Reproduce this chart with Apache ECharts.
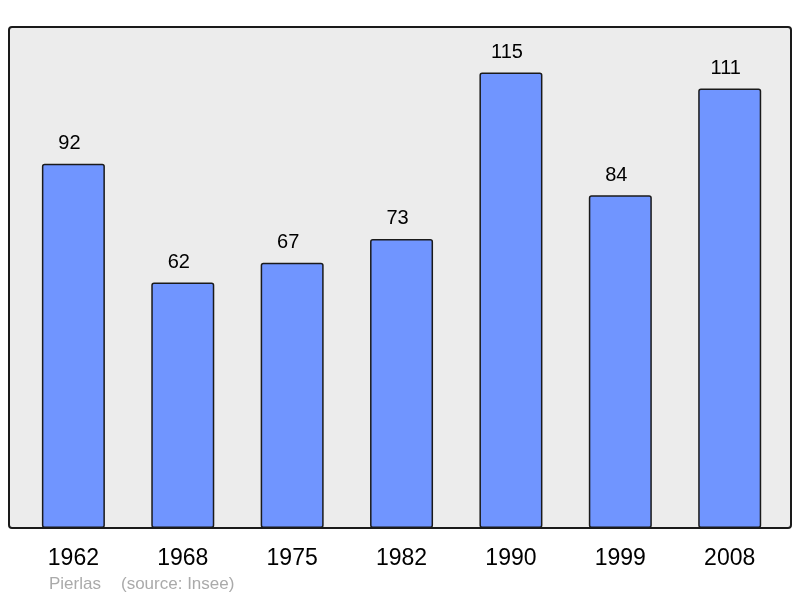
<!DOCTYPE html>
<html>
<head>
<meta charset="utf-8">
<script src="https://cdn.jsdelivr.net/npm/echarts@6/dist/echarts.min.js"></script>
<style>
html,body{margin:0;padding:0;background:#fff;}
#chart{width:800px;height:598px;}
</style>
</head>
<body>
<div id="chart"></div>
<script>
const years = ['1962','1968','1975','1982','1990','1999','2008'];
const population = [92, 62, 67, 73, 115, 84, 111];
const placeName = 'Pierlas';
const sourceText = '(source: Insee)';

const chart = echarts.init(document.getElementById('chart'), null, {renderer: 'canvas'});
const FONT = '"Liberation Sans", Arial, sans-serif';
chart.setOption({
  animation: false,
  backgroundColor: '#ffffff',
  grid: {left: 18.7, right: 15.6, top: 27, bottom: 70, containLabel: false},
  xAxis: {
    type: 'category',
    data: years,
    axisLine: {show: false},
    axisTick: {show: false},
    axisLabel: {color: '#000', fontSize: 23, fontFamily: FONT, margin: 19}
  },
  yAxis: {
    type: 'value', min: 0, max: 126.5, show: false,
    splitLine: {show: false}
  },
  graphic: [
    {type: 'rect', z: -10, shape: {x: 9, y: 27, width: 782, height: 501, r: 3},
     style: {fill: '#ececec', stroke: null}},
    {type: 'rect', z: 100, shape: {x: 9, y: 27, width: 782, height: 501, r: 3},
     style: {fill: null, stroke: '#1a1a1a', lineWidth: 2}},
    {type: 'text', left: 49, top: 576, z: 100,
     style: {text: placeName, fill: '#aaaaaa', font: '17px ' + FONT}},
    {type: 'text', left: 121, top: 576, z: 100,
     style: {text: sourceText, fill: '#aaaaaa', font: '17px ' + FONT}}
  ],
  series: [{
    type: 'bar',
    data: population,
    barWidth: 63,
    itemStyle: {color: '#7095ff', borderColor: '#1a1a1a', borderWidth: 1.5, borderRadius: 2},
    label: {show: true, position: 'top', distance: 10, offset: [-4, 0],
            color: '#000', fontSize: 20, fontFamily: FONT}
  }]
});
</script>
</body>
</html>
